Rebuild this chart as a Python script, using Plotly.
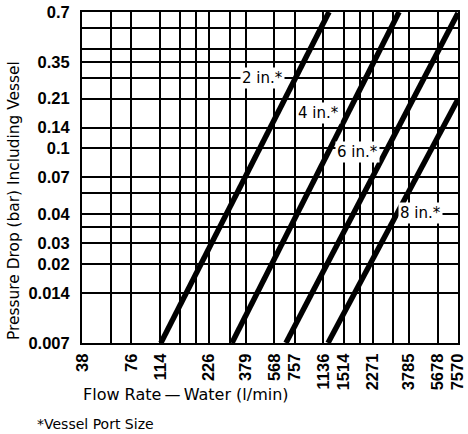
import plotly.graph_objects as go
import math

# Flow rate (l/min) axis: labelled ticks and extra grid lines
x_tick_vals = [38, 76, 114, 226, 379, 568, 757, 1136, 1514, 2271, 3785, 5678, 7570]
x_tick_text = ["38", "76", "114", "226", "379", "568", "757", "1136", "1514", "2271", "3785", "5678", "7570"]
x_extra_grid = [57, 151, 189, 303, 1893, 3028]

# Pressure drop (bar) axis: labelled ticks and extra grid lines
y_tick_vals = [0.0069, 0.0138, 0.0207, 0.0276, 0.0414, 0.0690, 0.1034, 0.1379, 0.2068, 0.3447, 0.6895]
y_tick_text = ["0.007", "0.014", "0.02", "0.03", "0.04", "0.07", "0.1", "0.14", "0.21", "0.35", "0.7"]
y_extra_grid = [0.0345, 0.0552, 0.2758, 0.4137, 0.5516]

# Curves: vessel port size -> (flow, pressure drop) end points
port_sizes = ["2 in.*", "4 in.*", "6 in.*", "8 in.*"]
flow_2in = [115, 1230]
dp_2in = [0.0069, 0.69]
flow_4in = [313, 3300]
dp_4in = [0.0069, 0.69]
flow_6in = [670, 7570]
dp_6in = [0.0069, 0.68]
flow_8in = [1212, 7570]
dp_8in = [0.0069, 0.205]

curves = [(flow_2in, dp_2in), (flow_4in, dp_4in), (flow_6in, dp_6in), (flow_8in, dp_8in)]

fig = go.Figure()
for name, (fx, fy) in zip(port_sizes, curves):
    fig.add_trace(go.Scatter(x=fx, y=fy, mode="lines", name=name,
                             line=dict(color="black", width=5.5), showlegend=False,
                             hoverinfo="skip"))

x_all = x_tick_vals + x_extra_grid
x_all_text = x_tick_text + [""] * len(x_extra_grid)
y_all = y_tick_vals + y_extra_grid
y_all_text = y_tick_text + [""] * len(y_extra_grid)

tickfont = dict(family="Liberation Sans, Arial, sans-serif", size=16.5, color="black", weight="bold")

fig.update_xaxes(type="log", range=[math.log10(37.85), math.log10(7570)],
                 tickmode="array", tickvals=x_all, ticktext=x_all_text, tickangle=-90,
                 showgrid=True, gridcolor="black", gridwidth=2,
                 showline=True, linecolor="black", linewidth=2, mirror=True,
                 ticks="", tickfont=tickfont, zeroline=False, ticklabelstandoff=2)
fig.update_yaxes(type="log", range=[math.log10(0.006895), math.log10(0.6895)],
                 tickmode="array", tickvals=y_all, ticktext=y_all_text,
                 showgrid=True, gridcolor="black", gridwidth=2,
                 showline=True, linecolor="black", linewidth=2, mirror=True,
                 ticks="", tickfont=tickfont, zeroline=False, ticklabelstandoff=7)

title_font = dict(family="DejaVu Sans, sans-serif", size=16, color="black")
label_font = dict(family="DejaVu Sans, sans-serif", size=15, color="black")

annotations = [
    dict(text="Pressure Drop (bar) Including Vessel", x=-0.181, y=0.432, xref="paper", yref="paper",
         textangle=-90, showarrow=False, font=dict(family="DejaVu Sans, sans-serif", size=15.4, color="black"),
         xanchor="center", yanchor="middle"),
    dict(text="Flow Rate\u2009\u2014\u2009Water (l/min)", x=0.277, y=-0.156, xref="paper", yref="paper",
         showarrow=False, font=title_font, xanchor="center", yanchor="middle"),
    dict(text="*Vessel Port Size", x=0.035, y=-0.245, xref="paper", yref="paper",
         showarrow=False, font=dict(family="DejaVu Sans, sans-serif", size=14, color="black"),
         xanchor="center", yanchor="middle"),
]
label_pos = [(0.481, 0.801), (0.628, 0.695), (0.734, 0.577), (0.899, 0.393)]
for name, (px, py) in zip(port_sizes, label_pos):
    annotations.append(dict(text=name, x=px, y=py, xref="paper", yref="paper", showarrow=False,
                            font=label_font, bgcolor="white", borderpad=1,
                            xanchor="center", yanchor="middle"))

fig.update_layout(width=468, height=434, margin=dict(l=82, r=10, t=12, b=91, autoexpand=False),
                  paper_bgcolor="white", plot_bgcolor="white", hovermode=False,
                  annotations=annotations, showlegend=False)

fig.write_html("out.html", config={"displayModeBar": False, "staticPlot": True},
               post_script="document.body.style.margin='0';document.body.style.overflow='hidden';")
